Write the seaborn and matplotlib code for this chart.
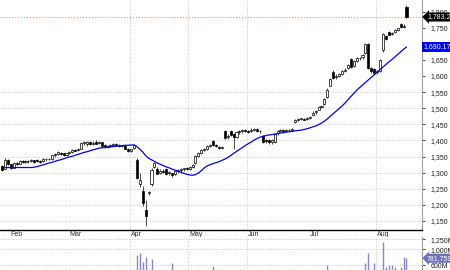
import numpy as np
import pandas as pd
import seaborn as sns
import matplotlib.pyplot as plt
from matplotlib.transforms import blended_transform_factory

# trading days (LSE calendar)
dates = pd.bdate_range("2025-01-29", "2025-08-15", freq="C",
                       holidays=["2025-04-18", "2025-04-21", "2025-05-05", "2025-05-26"])

opens = [1320, 1312, 1338, 1326, 1316, 1330, 1328, 1337, 1332, 1335,
         1336, 1338, 1340, 1336, 1335, 1341, 1343, 1342, 1354, 1358,
         1362, 1360, 1355, 1360, 1364, 1370, 1369, 1375, 1391, 1388,
         1396, 1390, 1395, 1391, 1394, 1386, 1381, 1383, 1385, 1388,
         1386, 1383, 1382, 1374, 1368, 1376, 1340, 1265, 1243, 1184,
         1236, 1265, 1318, 1312, 1300, 1306, 1312, 1298, 1298, 1295,
         1305, 1308, 1311, 1312, 1312, 1318, 1330, 1352, 1362, 1370,
         1374, 1383, 1397, 1385, 1381, 1378, 1430, 1410, 1428, 1420,
         1412, 1425, 1428, 1432, 1429, 1428, 1434, 1435, 1430, 1415,
         1400, 1401, 1395, 1396, 1422, 1430, 1432, 1430, 1433, 1431,
         1458, 1465, 1466, 1468, 1466, 1470, 1478, 1487, 1496, 1505,
         1512, 1535, 1570, 1612, 1596, 1601, 1606, 1615, 1624, 1652,
         1632, 1647, 1655, 1658, 1670, 1700, 1624, 1622, 1612, 1615,
         1680, 1725, 1736, 1730, 1736, 1742, 1763, 1752, 1815]
highs = [1324, 1345, 1342, 1328, 1333, 1334, 1340, 1340, 1338, 1339,
         1341, 1340, 1343, 1340, 1344, 1346, 1347, 1356, 1362, 1366,
         1364, 1362, 1362, 1366, 1372, 1375, 1376, 1394, 1398, 1397,
         1399, 1398, 1400, 1398, 1396, 1388, 1386, 1388, 1391, 1392,
         1390, 1387, 1385, 1377, 1375, 1388, 1344, 1300, 1258, 1215,
         1242, 1315, 1334, 1318, 1310, 1312, 1316, 1306, 1300, 1308,
         1312, 1314, 1316, 1317, 1320, 1327, 1355, 1364, 1373, 1376,
         1386, 1390, 1400, 1390, 1384, 1383, 1434, 1420, 1432, 1424,
         1428, 1432, 1436, 1436, 1434, 1438, 1440, 1438, 1434, 1418,
         1406, 1404, 1405, 1424, 1433, 1436, 1435, 1436, 1437, 1438,
         1468, 1470, 1471, 1470, 1472, 1476, 1490, 1493, 1508, 1511,
         1533, 1562, 1594, 1618, 1606, 1610, 1618, 1624, 1638, 1656,
         1650, 1658, 1660, 1668, 1702, 1704, 1628, 1626, 1618, 1654,
         1735, 1728, 1740, 1738, 1745, 1750, 1766, 1760, 1822]
lows = [1306, 1310, 1325, 1312, 1314, 1324, 1326, 1330, 1329, 1331,
        1332, 1331, 1333, 1330, 1332, 1337, 1338, 1340, 1350, 1355,
        1354, 1352, 1353, 1357, 1361, 1366, 1366, 1373, 1386, 1384,
        1387, 1386, 1388, 1389, 1382, 1378, 1377, 1380, 1382, 1383,
        1380, 1379, 1372, 1364, 1365, 1374, 1280, 1255, 1195, 1134,
        1230, 1260, 1315, 1295, 1296, 1300, 1294, 1294, 1288, 1292,
        1300, 1303, 1306, 1307, 1309, 1315, 1328, 1349, 1359, 1366,
        1371, 1379, 1383, 1380, 1374, 1372, 1405, 1404, 1414, 1375,
        1408, 1420, 1424, 1425, 1423, 1425, 1430, 1427, 1424, 1392,
        1393, 1390, 1390, 1392, 1418, 1426, 1426, 1427, 1428, 1429,
        1455, 1461, 1462, 1462, 1463, 1466, 1476, 1483, 1494, 1500,
        1510, 1533, 1568, 1592, 1590, 1598, 1603, 1611, 1621, 1625,
        1628, 1644, 1650, 1654, 1668, 1622, 1610, 1605, 1606, 1612,
        1676, 1712, 1726, 1726, 1733, 1739, 1750, 1748, 1780]
closes = [1309, 1340, 1328, 1315, 1330, 1327, 1337, 1333, 1335, 1336,
          1338, 1334, 1335, 1333, 1341, 1343, 1341, 1354, 1358, 1363,
          1357, 1354, 1360, 1363, 1370, 1368, 1373, 1391, 1394, 1395,
          1389, 1392, 1390, 1396, 1384, 1380, 1383, 1385, 1389, 1386,
          1383, 1385, 1374, 1368, 1372, 1385, 1284, 1278, 1206, 1165,
          1238, 1309, 1330, 1297, 1305, 1303, 1297, 1302, 1292, 1305,
          1308, 1310, 1313, 1311, 1318, 1325, 1352, 1360, 1370, 1372,
          1383, 1386, 1385, 1384, 1378, 1379, 1408, 1415, 1418, 1410,
          1425, 1428, 1432, 1429, 1427, 1434, 1436, 1430, 1428, 1396,
          1398, 1394, 1401, 1420, 1430, 1432, 1429, 1433, 1431, 1436,
          1465, 1466, 1468, 1465, 1470, 1473, 1486, 1490, 1505, 1507,
          1530, 1558, 1590, 1595, 1601, 1606, 1615, 1620, 1635, 1628,
          1647, 1655, 1657, 1665, 1698, 1625, 1616, 1610, 1613, 1650,
          1730, 1716, 1728, 1735, 1742, 1748, 1752, 1756, 1783.25]

# moving average as drawn on the chart
ma = [1316, 1316, 1316, 1316, 1316, 1316, 1316, 1316, 1316, 1316,
      1316, 1317, 1319, 1322, 1324, 1327, 1330, 1332, 1335, 1338,
      1340, 1343, 1346, 1349, 1351, 1354, 1357, 1360, 1363, 1365,
      1368, 1371, 1373, 1376, 1377, 1378, 1379, 1380, 1381, 1382,
      1383, 1384, 1385, 1385, 1386, 1386, 1381, 1373, 1364, 1353,
      1345, 1340, 1335, 1330, 1326, 1322, 1318, 1315, 1311, 1308,
      1305, 1301, 1298, 1295, 1293, 1292, 1294, 1299, 1306, 1315,
      1321, 1325, 1328, 1331, 1334, 1338, 1342, 1347, 1353, 1360,
      1366, 1372, 1378, 1384, 1390, 1395, 1401, 1406, 1410, 1413,
      1415, 1417, 1418, 1420, 1421, 1423, 1424, 1426, 1427, 1428,
      1430, 1431, 1432, 1434, 1436, 1439, 1442, 1445, 1449, 1454,
      1460, 1467, 1475, 1483, 1491, 1499, 1507, 1516, 1526, 1536,
      1546, 1556, 1564, 1572, 1580, 1588, 1596, 1604, 1612, 1620,
      1628, 1636, 1644, 1651, 1659, 1667, 1675, 1683, 1690.17]

# volume, millions
volume = [410, 380, 360, 400, 350, 330, 370, 340, 360, 390,
          420, 350, 380, 400, 330, 360, 440, 390, 370, 410,
          380, 430, 400, 360, 390, 350, 380, 470, 420, 400,
          380, 360, 410, 390, 430, 400, 370, 420, 380, 400,
          410, 380, 440, 460, 430, 470, 855, 900, 680, 815,
          500, 750, 480, 450, 430, 460, 420, 440, 660, 410,
          400, 380, 420, 390, 440, 410, 470, 450, 430, 400,
          420, 440, 590, 410, 380, 400, 470, 430, 410, 450,
          420, 380, 400, 390, 410, 370, 360, 400, 380, 430,
          410, 390, 380, 440, 420, 400, 380, 370, 410, 400,
          460, 430, 400, 410, 390, 420, 450, 440, 460, 470,
          480, 615, 470, 460, 440, 450, 430, 460, 470, 480,
          460, 450, 470, 480, 660, 910, 480, 660, 470, 490,
          1180, 560, 600, 600, 560, 480, 570, 800, 781.759]

price_ticks = [1150, 1200, 1250, 1300, 1350, 1400, 1450, 1500, 1550,
               1600, 1650, 1700, 1750, 1800]
vol_ticks = [600, 1000, 1250]
vol_tick_labels = ["600M", "1,000M", "1,250M"]
grid_months = ["Apr", "May", "Jun", "Aug"]

df = pd.DataFrame({"date": dates, "open": opens, "high": highs, "low": lows,
                   "close": closes, "ma": ma, "volume": volume})
df["i"] = np.arange(len(df))
df["up"] = df["close"] >= df["open"]

sns.set_style("white")
plt.rcParams["font.family"] = ["Liberation Sans", "DejaVu Sans"]
plt.rcParams["font.size"] = 5

fig = plt.figure(figsize=(4.5, 2.7), dpi=100)
ax = fig.add_axes([0, 0.1481, 0.9378, 0.8519])
vax = fig.add_axes([0, 0, 0.9378, 0.1222])
ax.grid(False)
vax.grid(False)

# month starts
first = df.groupby(df["date"].dt.to_period("M"))["i"].min()
months = [(p.strftime("%b"), i) for p, i in first.items() if p.month > 1]

for a in (ax, vax):
    for name, i in months:
        if name in grid_months:
            a.axvline(i - 0.4, color="#c8c8c8", ls=":", lw=0.7, zorder=0)

for t in price_ticks:
    if t <= 1550:
        ax.axhline(t, color="#c8c8c8", ls=":", lw=0.7, zorder=0)
ax.axhline(closes[-1], color="#f09090", ls=":", lw=0.8, zorder=0)

# candles
ax.vlines(df["i"], df["low"], df["high"], color="#303030", lw=0.6, zorder=2)
body = (df["close"] - df["open"]).abs().clip(lower=2.5)
bottom = df[["open", "close"]].min(axis=1)
ax.bar(df["i"], body, bottom=bottom, width=0.7,
       color=np.where(df["up"], "white", "black"), edgecolor="black",
       linewidth=0.5, zorder=3)

sns.lineplot(data=df, x="i", y="ma", ax=ax, color="#0000ff", lw=0.9, zorder=4)

ax.set_xlim(-0.7, 143.3)
ax.set_ylim(1122, 1836)
ax.yaxis.tick_right()
ax.set_yticks(price_ticks)
ax.set_yticklabels([f"{t:,}" for t in price_ticks])
ax.tick_params(axis="y", direction="out", length=2, pad=4, colors="#202020",
               labelsize=5, width=0.6)
ax.set_xticks([])
ax.set_xlabel("")
ax.set_ylabel("")
for s in ("top", "left"):
    ax.spines[s].set_visible(False)
ax.spines["bottom"].set_color("black")
ax.spines["bottom"].set_linewidth(1)
ax.spines["right"].set_color("#a0a0a0")
ax.spines["right"].set_linewidth(0.8)

xt = blended_transform_factory(ax.transData, ax.transAxes)
for name, i in months:
    ax.text(i, -0.018, name, transform=xt, ha="left", va="center",
            fontsize=5, color="#303030")

yt = blended_transform_factory(ax.transAxes, ax.transData)
ax.text(1.012, closes[-1], f"{closes[-1]:,.2f}", transform=yt, ha="left",
        va="center", color="white", fontsize=5, zorder=10,
        bbox=dict(boxstyle="larrow,pad=0.15", fc="black", ec="none"))
ax.text(1.003, ma[-1], f"{ma[-1]:,.2f}", transform=yt, ha="left",
        va="center", color="white", fontsize=5, zorder=10,
        bbox=dict(boxstyle="square,pad=0.2", fc="#0000ff", ec="none"))

# volume
vax.vlines(df["i"], 0, df["volume"], color="#8888cc", lw=1.0, zorder=2)
for t in vol_ticks:
    vax.axhline(t, color="#c8c8c8", ls=":", lw=0.7, zorder=0)
vax.set_xlim(-0.7, 143.3)
vax.set_ylim(487, 1312)
vax.yaxis.tick_right()
vax.set_yticks(vol_ticks)
vax.set_yticklabels(vol_tick_labels)
vax.tick_params(axis="y", direction="out", length=2, pad=4, colors="#202020",
                labelsize=5, width=0.6)
vax.set_xticks([])
for s in ("top", "left", "bottom"):
    vax.spines[s].set_visible(False)
vax.spines["right"].set_color("#a0a0a0")
vax.spines["right"].set_linewidth(0.8)
vyt = blended_transform_factory(vax.transAxes, vax.transData)
vax.text(1.012, volume[-1], f"{volume[-1] * 1000:,.0f}", transform=vyt,
         ha="left", va="center", color="white", fontsize=5, zorder=10,
         bbox=dict(boxstyle="larrow,pad=0.15", fc="#7070b8", ec="none"))

fig.savefig("out.png", dpi=100)
